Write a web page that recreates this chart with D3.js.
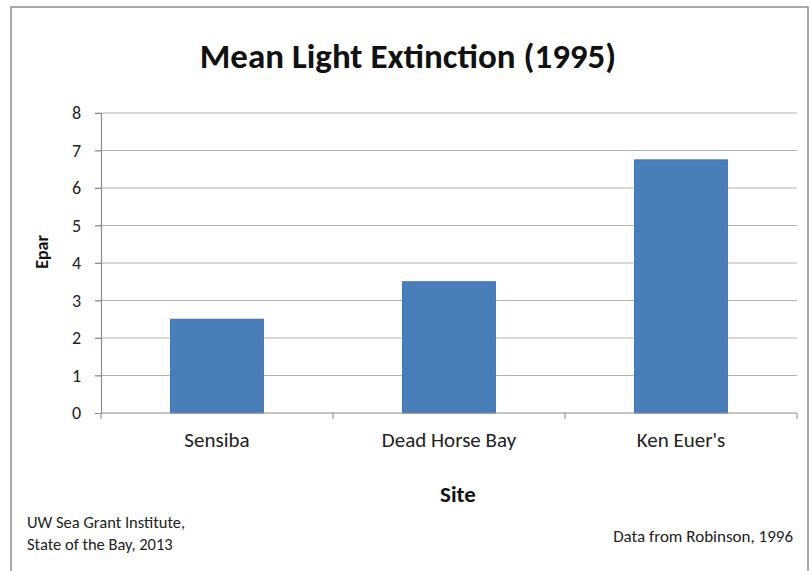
<!DOCTYPE html>
<html>
<head>
<meta charset="utf-8">
<script src="https://cdn.jsdelivr.net/npm/d3@7"></script>
<style>
  body { margin: 0; background: #fff; }
  text { font-family: Carlito, Calibri, Lato, "Open Sans", sans-serif; }
</style>
</head>
<body>
<div id="chart"></div>
<script>
// chart data
const sites = ["Sensiba", "Dead Horse Bay", "Ken Euer's"];
const epar = [2.5, 3.5, 6.75];
const yTicks = [0, 1, 2, 3, 4, 5, 6, 7, 8];

const width = 811, height = 571;
const margin = { top: 113, right: 14, bottom: 158, left: 101 };

const x = d3.scaleBand()
    .domain(sites)
    .range([margin.left, width - margin.right])
    .paddingInner(0.6)
    .paddingOuter(0.3);

const y = d3.scaleLinear()
    .domain([0, 8])
    .range([height - margin.bottom, margin.top]);

const svg = d3.select("#chart").append("svg")
    .attr("width", width)
    .attr("height", height);

// outer frame
svg.append("rect")
    .attr("x", 11).attr("y", 7)
    .attr("width", 797).attr("height", 590)
    .attr("fill", "none")
    .attr("stroke", "#8c8c8c")
    .attr("stroke-width", 1.5);

// gridlines
svg.append("g")
    .selectAll("line")
    .data(yTicks.filter(d => d > 0))
    .join("line")
    .attr("x1", margin.left - 6)
    .attr("x2", width - margin.right)
    .attr("y1", d => y(d))
    .attr("y2", d => y(d))
    .attr("stroke", "#b3b3b3")
    .attr("stroke-width", 1.2);

// bars
svg.append("g")
    .selectAll("rect")
    .data(sites)
    .join("rect")
    .attr("x", d => x(d))
    .attr("width", x.bandwidth())
    .attr("y", (d, i) => y(epar[i]))
    .attr("height", (d, i) => y(0) - y(epar[i]))
    .attr("fill", "#4a7ebb")
    .attr("stroke", "#3f72ad")
    .attr("stroke-width", 1);

// y axis
const yAxis = svg.append("g")
    .attr("transform", `translate(${margin.left},0)`)
    .call(d3.axisLeft(y).tickValues(yTicks).tickSize(6).tickPadding(14));
yAxis.select(".domain").attr("stroke", "#8c8c8c").attr("stroke-width", 1.2);
yAxis.selectAll(".tick line").attr("stroke", "#8c8c8c");
yAxis.selectAll("text")
    .attr("font-size", 18)
    .attr("fill", "#222");

// x axis with boundary ticks
const xAxis = svg.append("g")
    .attr("transform", `translate(0,${y(0)})`);
xAxis.append("line")
    .attr("x1", margin.left).attr("x2", width - margin.right)
    .attr("stroke", "#8c8c8c").attr("stroke-width", 1.2);
const bounds = d3.range(sites.length + 1).map(i => margin.left + i * (width - margin.left - margin.right) / sites.length);
xAxis.selectAll("line.bt")
    .data(bounds)
    .join("line")
    .attr("class", "bt")
    .attr("x1", d => d).attr("x2", d => d)
    .attr("y1", 0).attr("y2", 6)
    .attr("stroke", "#8c8c8c");
xAxis.selectAll("text")
    .data(sites)
    .join("text")
    .attr("x", d => x(d) + x.bandwidth() / 2)
    .attr("y", 34)
    .attr("text-anchor", "middle")
    .attr("font-size", 21)
    .attr("fill", "#222")
    .text(d => d);

// title
svg.append("text")
    .attr("x", 408).attr("y", 68)
    .attr("text-anchor", "middle")
    .attr("font-size", 35)
    .attr("font-weight", "bold")
    .attr("fill", "#111")
    .text("Mean Light Extinction (1995)");

// axis titles
svg.append("text")
    .attr("transform", "translate(48,252) rotate(-90)")
    .attr("text-anchor", "middle")
    .attr("font-size", 18)
    .attr("font-weight", "bold")
    .attr("fill", "#111")
    .text("Epar");

svg.append("text")
    .attr("x", 458).attr("y", 502)
    .attr("text-anchor", "middle")
    .attr("font-size", 23)
    .attr("font-weight", "bold")
    .attr("fill", "#111")
    .text("Site");

// footnotes
svg.append("text")
    .attr("x", 27).attr("y", 528)
    .attr("font-size", 16.5)
    .attr("fill", "#222")
    .text("UW Sea Grant Institute,");
svg.append("text")
    .attr("x", 27).attr("y", 550)
    .attr("font-size", 16.5)
    .attr("fill", "#222")
    .text("State of the Bay, 2013");
svg.append("text")
    .attr("x", 793).attr("y", 542)
    .attr("text-anchor", "end")
    .attr("font-size", 17)
    .attr("fill", "#222")
    .text("Data from Robinson, 1996");
</script>
</body>
</html>
